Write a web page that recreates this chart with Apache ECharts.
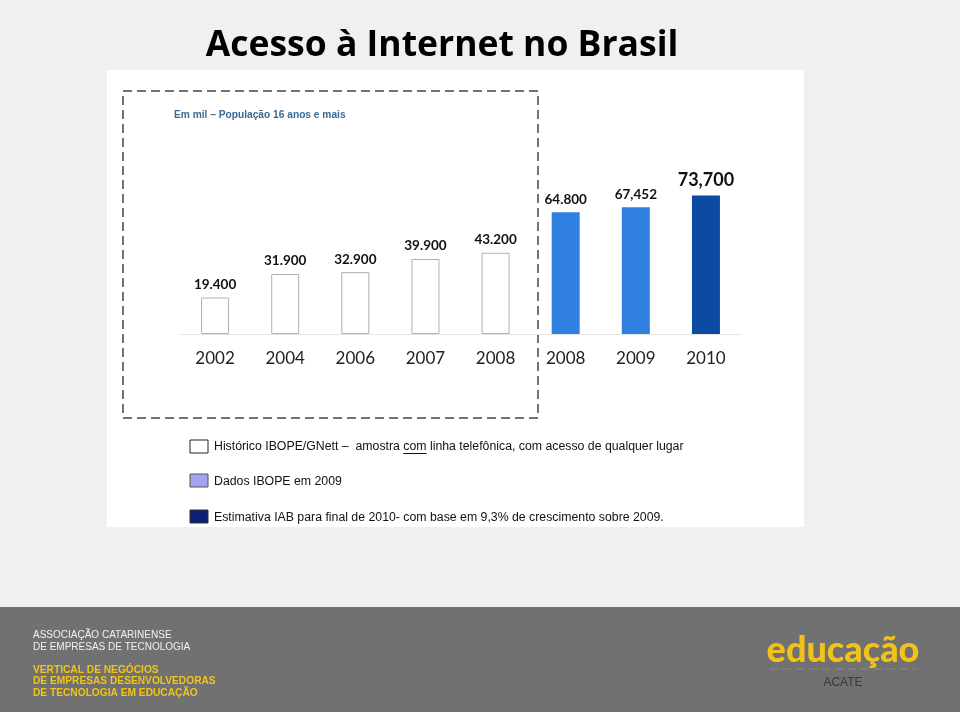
<!DOCTYPE html>
<html><head><meta charset="utf-8">
<script src="https://cdn.jsdelivr.net/npm/echarts@6/dist/echarts.min.js"></script>
<style>html,body{margin:0;padding:0;background:#f0f0f0}#c{width:960px;height:712px}</style>
</head><body><div id="c"></div>
<script>
const categories = ['2002','2004','2006','2007','2008','2008','2009','2010'];
const values = [19400, 31900, 32900, 39900, 43200, 64800, 67452, 73700];
const valueLabels = ['19.400','31.900','32.900','39.900','43.200','64.800','67,452','73,700'];
const groups = ['hist','hist','hist','hist','hist','ibope','ibope','iab'];
const legendTexts = [
  'Histórico IBOPE/GNett –  amostra com linha telefônica, com acesso de qualquer lugar',
  'Dados IBOPE em 2009',
  'Estimativa IAB para final de 2010- com base em 9,3% de crescimento sobre 2009.'
];
const styleByGroup = {
  hist: {color:'#ffffff', borderColor:'#b0b0b0', borderWidth:1},
  ibope: {color:'#2f80e0'},
  iab: {color:'#0c4aa3'}
};
const legendFont = '12.3px "Liberation Sans", Arial';
// underline position for the word "com" in first legend line
const mctx = document.createElement('canvas').getContext('2d');
mctx.font = legendFont;
const prefix = legendTexts[0].slice(0, legendTexts[0].indexOf(' com ') + 1);
const ulX1 = 214 + mctx.measureText(prefix).width;
const ulX2 = ulX1 + mctx.measureText('com').width;

const chart = echarts.init(document.getElementById('c'));
const data = values.map((v,i)=>({
  value: v,
  itemStyle: styleByGroup[groups[i]],
  label: {
    fontSize: groups[i]==='iab' ? 18 : 13.5,
    distance: groups[i]==='iab' ? 6 : 6
  }
}));
chart.setOption({
  backgroundColor:'#f0f0f0',
  animation:false,
  graphic:[
    {type:'rect', shape:{x:107,y:70,width:697,height:457}, style:{fill:'#ffffff'}, z:-10},
    {type:'rect', shape:{x:0,y:607,width:960,height:105}, style:{fill:'#717171'}, z:-10},
    {type:'text', x:442, y:46, style:{text:'Acesso à Internet no Brasil', fill:'#000', font:'bold 35.5px "Open Sans", sans-serif', textAlign:'center', textVerticalAlign:'middle'}},
    {type:'rect', shape:{x:123,y:91,width:415,height:327}, style:{fill:'none', stroke:'#444', lineWidth:1.5, lineDash:[9,5]}},
    {type:'text', x:174, y:115, style:{text:'Em mil – População 16 anos e mais', fill:'#3a6a98', font:'bold 10.2px "Liberation Sans", Arial', textVerticalAlign:'middle'}},
    {type:'rect', shape:{x:190,y:440,width:18,height:13}, style:{fill:'#fff', stroke:'#222', lineWidth:1}},
    {type:'text', x:214, y:447, style:{text:legendTexts[0], fill:'#111', font:legendFont, textVerticalAlign:'middle'}},
    {type:'line', shape:{x1:ulX1,y1:453.5,x2:ulX2,y2:453.5}, style:{stroke:'#111', lineWidth:1}},
    {type:'rect', shape:{x:190,y:474,width:18,height:13}, style:{fill:'#a3a3f0', stroke:'#555', lineWidth:1}},
    {type:'text', x:214, y:482, style:{text:legendTexts[1], fill:'#111', font:legendFont, textVerticalAlign:'middle'}},
    {type:'rect', shape:{x:190,y:510,width:18,height:13}, style:{fill:'#0c1f70', stroke:'#333', lineWidth:1}},
    {type:'text', x:214, y:518, style:{text:legendTexts[2], fill:'#111', font:legendFont, textVerticalAlign:'middle'}},
    {type:'text', x:33, y:629, style:{text:'ASSOCIAÇÃO CATARINENSE\nDE EMPRESAS DE TECNOLOGIA', fill:'#f2f2f2', font:'10px "Liberation Sans", Arial', lineHeight:12, textVerticalAlign:'top'}},
    {type:'text', x:33, y:664, style:{text:'VERTICAL DE NEGÓCIOS\nDE EMPRESAS DESENVOLVEDORAS\nDE TECNOLOGIA EM EDUCAÇÃO', fill:'#f0c419', font:'bold 10.2px "Liberation Sans", Arial', lineHeight:11.5, textVerticalAlign:'top'}},
    {type:'text', x:843, y:650, style:{text:'educação', fill:'#f2c21a', font:'900 36px "Lato", sans-serif', textAlign:'center', textVerticalAlign:'middle'}},
    {type:'line', shape:{x1:770,y1:669,x2:916,y2:669}, style:{stroke:'#8a8a8a', lineWidth:1, lineDash:[8,5]}},
    {type:'text', x:843, y:683, style:{text:'ACATE', fill:'#3a3a3a', font:'12px "Liberation Sans", Arial', textAlign:'center', textVerticalAlign:'middle'}}
  ],
  grid:{left:180, right:219, top:146, bottom:378},
  xAxis:{type:'category', data:categories,
    axisLine:{lineStyle:{color:'#e4e4e4'}}, axisTick:{show:false},
    axisLabel:{color:'#222', fontSize:17, fontFamily:'Lato, sans-serif', margin:16}},
  yAxis:{type:'value', min:0, max:100000, show:false, splitLine:{show:false}},
  series:[{type:'bar', data:data, barWidth:28,
    label:{show:true, position:'top', color:'#111', fontWeight:'bold', fontFamily:'Lato, sans-serif',
      formatter:(p)=>valueLabels[p.dataIndex]}}]
});
</script></body></html>
